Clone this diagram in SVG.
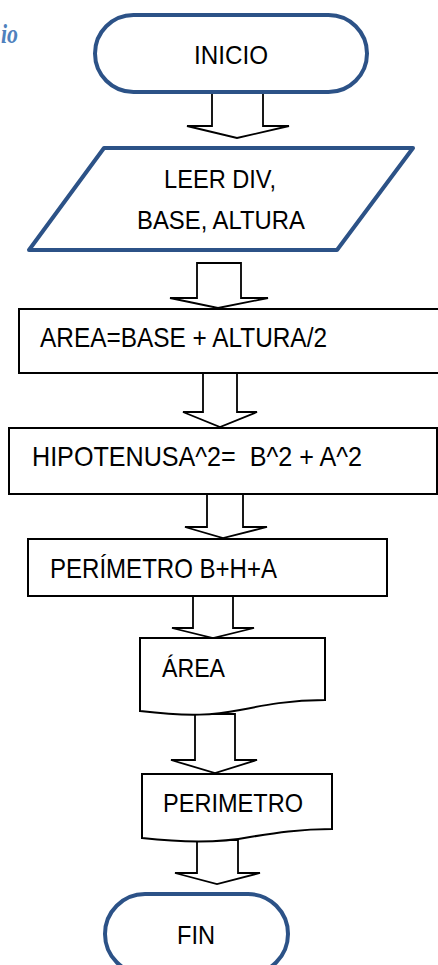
<svg xmlns="http://www.w3.org/2000/svg" width="438" height="965" viewBox="0 0 438 965">
  <style>
    .term { fill: #ffffff; stroke: #2c5287; stroke-width: 4; stroke-linejoin: round; }
    .box { fill: #ffffff; stroke: #000000; stroke-width: 2; }
    .flow { fill: #ffffff; stroke: #000000; stroke-width: 1.8; stroke-linejoin: miter; }
    .lbl { font-family: "Liberation Sans", Arial, sans-serif; fill: #000000; white-space: pre; }
    .s25 { font-size: 25px; }
    .s26 { font-size: 26px; }
    .s28 { font-size: 28px; }
    .title { font-family: "Liberation Serif", "Times New Roman", serif; font-size: 28px; font-weight: bold; font-style: italic; fill: #4f81bd; }
  </style>

  <rect x="0" y="0" width="438" height="965" fill="#ffffff"/>

  <!-- heading fragment at the left margin -->
  <text class="title" x="1" y="43" textLength="17" lengthAdjust="spacingAndGlyphs">io</text>

  <!-- block arrows between steps -->
  <g id="connectors">
    <polygon class="flow" points="212,93 263,93 263,126 289,126 237,138 187,126 212,126"/>
    <polygon class="flow" points="197,263 241,263 241,298 268,298 218,308 170,298 197,298"/>
    <polygon class="flow" points="203,373 237,373 237,412 257,412 220,427 183,412 203,412"/>
    <polygon class="flow" points="207,494 243,494 243,527 267,527 223,538 185,527 207,527"/>
    <polygon class="flow" points="193,596 233,596 233,628 254,628 213,638 172,628 193,628"/>
    <polygon class="flow" points="195,714 235,714 235,760 257,760 215,773 171,760 195,760"/>
    <polygon class="flow" points="197,840 238,840 238,873 260,873 217,884 175,873 197,873"/>
  </g>

  <g id="inicio">
    <rect class="term" x="95" y="15" width="272" height="77" rx="38.5"/>
    <text class="lbl s25" x="194" y="64" textLength="74" lengthAdjust="spacingAndGlyphs">INICIO</text>
  </g>

  <g id="leer">
    <polygon class="term" points="104,148 413,148 337,250 29,250"/>
    <text class="lbl s25" x="164" y="188" textLength="112" lengthAdjust="spacingAndGlyphs">LEER DIV,</text>
    <text class="lbl s25" x="137" y="229" textLength="168" lengthAdjust="spacingAndGlyphs">BASE, ALTURA</text>
  </g>

  <g id="area-calc">
    <rect class="box" x="19" y="309" width="430" height="64"/>
    <text class="lbl s28" x="40" y="347" textLength="287" lengthAdjust="spacingAndGlyphs">AREA=BASE + ALTURA/2</text>
  </g>

  <g id="hipotenusa-calc">
    <rect class="box" x="9" y="428" width="428" height="66"/>
    <text class="lbl s28" x="32" y="466" textLength="330" lengthAdjust="spacingAndGlyphs">HIPOTENUSA^2=  B^2 + A^2</text>
  </g>

  <g id="perimetro-calc">
    <rect class="box" x="28" y="539" width="359" height="57"/>
    <text class="lbl s28" x="50" y="578" textLength="227" lengthAdjust="spacingAndGlyphs">PERÍMETRO B+H+A</text>
  </g>

  <g id="area-out">
    <path class="box" d="M140,638 H325 V700 C290,700 265,705 240,710 C215,715 190,717 140,711 Z"/>
    <text class="lbl s26" x="162" y="677" textLength="63" lengthAdjust="spacingAndGlyphs">ÁREA</text>
  </g>

  <g id="perimetro-out">
    <path class="box" d="M142,774 H332 V829 C300,829 275,833 250,837 C225,842 195,844 142,838 Z"/>
    <text class="lbl s26" x="163" y="812" textLength="140" lengthAdjust="spacingAndGlyphs">PERIMETRO</text>
  </g>

  <g id="fin">
    <rect class="term" x="105" y="894" width="183" height="80" rx="40"/>
    <text class="lbl s25" x="177" y="944" textLength="38" lengthAdjust="spacingAndGlyphs">FIN</text>
  </g>
</svg>
